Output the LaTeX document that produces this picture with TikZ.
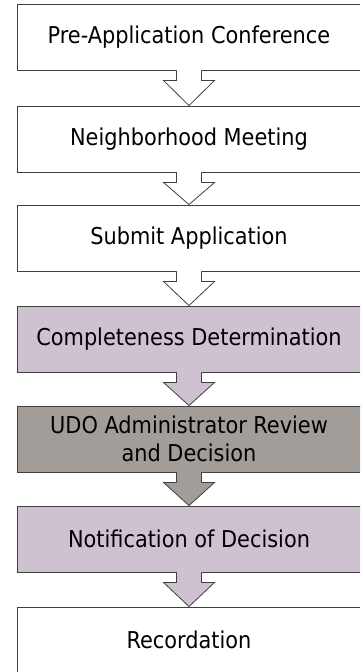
\documentclass[tikz,border=0pt]{standalone}
\usepackage{fontspec}
\setmainfont{DejaVu Sans Condensed}
\usetikzlibrary{calc}
\definecolor{lav}{HTML}{CEC2D0}
\definecolor{greybox}{HTML}{A29D99}
\definecolor{edge}{HTML}{404040}
\tikzset{
  stepbox/.style={draw=edge, line width=0.9pt, minimum width=344pt, minimum height=66pt,
    inner sep=0pt, align=center, font=\fontsize{23.2}{28}\selectfont, text=black},
  flowfill/.style={fill=#1},
  flowline/.style={draw=edge, line width=0.8pt, line join=miter},
}
\newcommand\flowarrow[3]{%
  \fill[flowfill=#3] ($(#1.south)+(-12.5,-1.5)$) -- ($(#1.south)+(-12.5,10)$) -- ($(#1.south)+(-25.5,10)$)
     -- (#2.north) -- ($(#1.south)+(25.5,10)$) -- ($(#1.south)+(12.5,10)$) -- ($(#1.south)+(12.5,-1.5)$) -- cycle;
  \draw[flowline] ($(#1.south)+(-12.5,0)$) -- ($(#1.south)+(-12.5,10)$) -- ($(#1.south)+(-25.5,10)$)
     -- (#2.north) -- ($(#1.south)+(25.5,10)$) -- ($(#1.south)+(12.5,10)$) -- ($(#1.south)+(12.5,0)$);
}
\begin{document}
\begin{tikzpicture}[x=1pt,y=-1pt]
\useasboundingbox (0,0) rectangle (360,672);
\clip (0,0) rectangle (360,672);
\node[stepbox, fill=white]   (b1) at (189,37)  {Pre-Application Conference};
\node[stepbox, fill=white]   (b2) at (189,139) {Neighborhood Meeting};
\node[stepbox, fill=white]   (b3) at (189,238) {Submit Application};
\node[stepbox, fill=lav]     (b4) at (189,339) {Completeness Determination};
\node[stepbox, fill=greybox] (b5) at (189,439) {UDO Administrator Review\\and Decision};
\node[stepbox, fill=lav]     (b6) at (189,539) {Notification of Decision};
\node[stepbox, fill=white]   (b7) at (189,640) {Recordation};
\flowarrow{b1}{b2}{white}
\flowarrow{b2}{b3}{white}
\flowarrow{b3}{b4}{white}
\flowarrow{b4}{b5}{lav}
\flowarrow{b5}{b6}{greybox}
\flowarrow{b6}{b7}{lav}
\end{tikzpicture}
\end{document}
